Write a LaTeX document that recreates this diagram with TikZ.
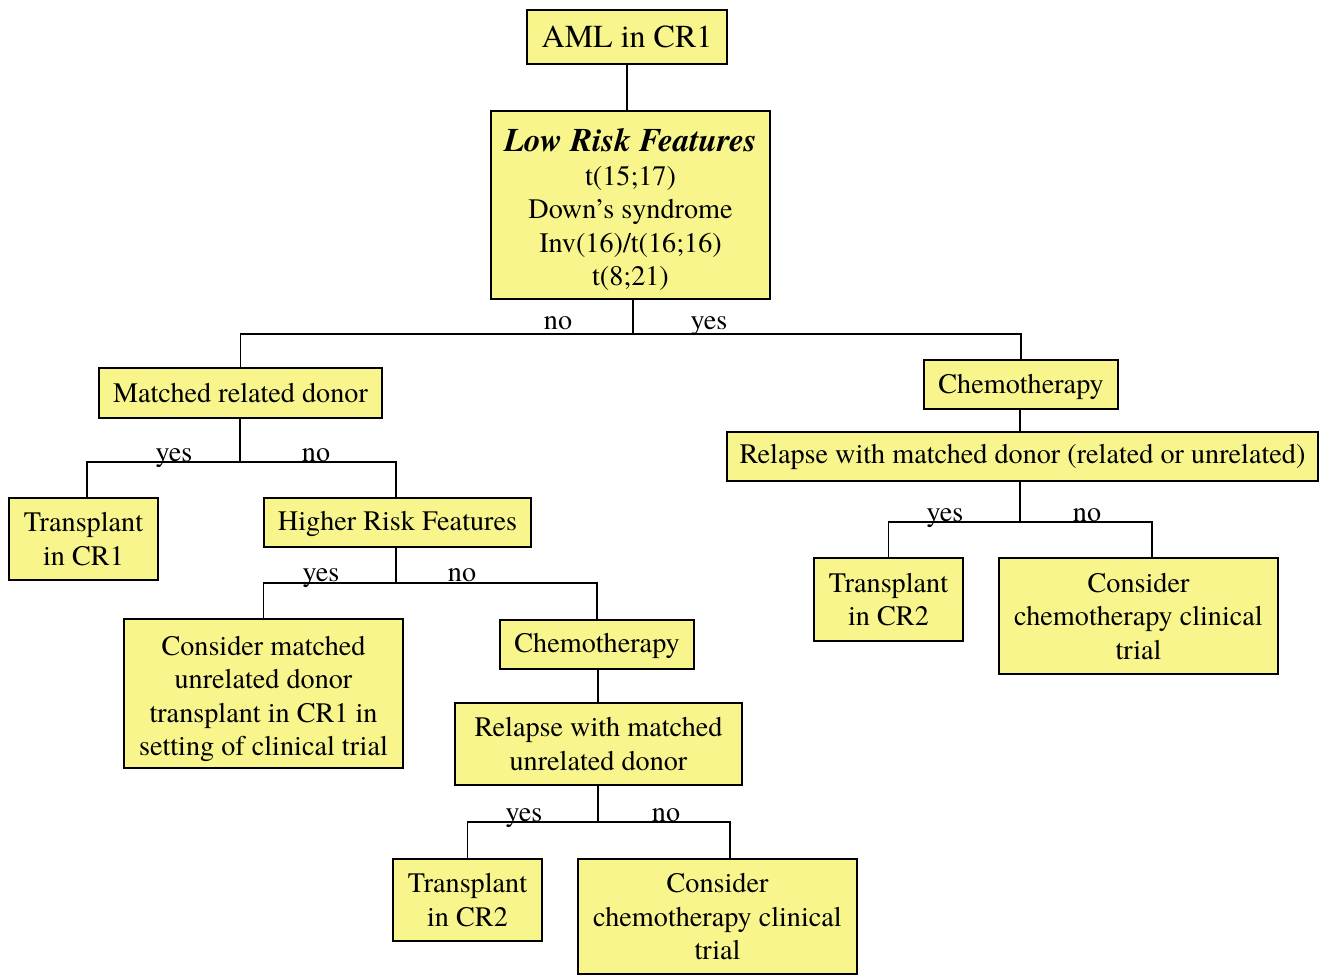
\documentclass[tikz,border=0pt]{standalone}
\usepackage{fontspec}
\newfontfamily\boxfont{TeX Gyre Termes}
\usepackage{tikz}

\definecolor{boxyellow}{RGB}{247,245,140}

\begin{document}
\begin{tikzpicture}[x=0.5pt,y=-0.5pt,
  box/.style={draw, fill=boxyellow, line width=0.7pt, align=center,
    inner sep=0pt, font=\boxfont\fontsize{14.1}{16.75}\selectfont},
  lbl/.style={font=\boxfont\fontsize{14.1}{16.75}\selectfont, inner sep=0pt, anchor=base},
  every path/.style={line width=0.6pt}]
  \useasboundingbox (0,0) rectangle (1327,975);

  \node[box, minimum width=100pt, minimum height=27pt, font=\boxfont\fontsize{16}{19}\selectfont] (aml) at (627,37) {AML in CR1};
  \node[box, minimum width=139.5pt, minimum height=94pt] (lrf) at (630.5,205)
    {\rule{0pt}{16pt}{\fontsize{16.5}{18}\selectfont\textbf{\textit{Low Risk Features}}}\\t(15;17)\\Down’s syndrome\\Inv(16)/t(16;16)\\t(8;21)};

  \node[box, minimum width=141.5pt, minimum height=25pt] (mrd) at (240.5,393) {Matched related donor};
  \node[box, minimum width=97pt, minimum height=24.5pt] (chr) at (1021,384.5) {\rule{0pt}{12pt}Chemotherapy};
  \node[box, minimum width=295.5pt, minimum height=24.5pt] (rlr) at (1022.5,456.5) {Relapse with matched donor (related or unrelated)};

  \node[box, minimum width=74.5pt, minimum height=41pt] (tc1) at (83.5,539) {Transplant\\in CR1};
  \node[box, minimum width=133.5pt, minimum height=24.5pt] (hrf) at (397.5,522.5) {\rule{0pt}{11pt}Higher Risk Features};

  \node[box, minimum width=74.5pt, minimum height=41.5pt] (tc2r) at (888.5,599.5) {Transplant\\in CR2};
  \node[box, minimum width=139.5pt, minimum height=58pt] (cctr) at (1138.5,616) {Consider\\chemotherapy clinical\\trial};

  \node[box, minimum width=139.5pt, minimum height=74.5pt] (cmu) at (263.5,693.5)
    {\rule{0pt}{15pt}Consider matched\\unrelated donor\\transplant in CR1 in\\setting of clinical trial};
  \node[box, minimum width=97pt, minimum height=24.5pt] (chm) at (597,644.5) {\rule{0pt}{11pt}Chemotherapy};
  \node[box, minimum width=143.5pt, minimum height=41pt] (rlu) at (598.5,744) {Relapse with matched\\unrelated donor};

  \node[box, minimum width=74.5pt, minimum height=41pt] (tc2b) at (467.5,900) {Transplant\\in CR2};
  \node[box, minimum width=139.5pt, minimum height=57.5pt] (cctb) at (717.5,916.5) {Consider\\chemotherapy clinical\\trial};

  % branch points
  \coordinate (b1) at (633,334);
  \coordinate (b2) at (240,462);
  \coordinate (b3) at (396,583);
  \coordinate (b4) at (1020,522);
  \coordinate (b5) at (598,822);

  \draw (aml) -- (aml |- lrf.north);
  \draw (lrf.south -| b1) -- (b1);
  \draw (b1) -| (mrd.north);
  \draw (b1) -| (chr.north);
  \draw (chr.south -| b4) -- (rlr.north -| b4);

  \draw (mrd.south -| b2) -- (b2);
  \draw (b2) -| (tc1.north -| 87,0);
  \draw (b2) -| (hrf.north -| b3);

  \draw (hrf.south -| b3) -- (b3);
  \draw (b3) -| (cmu.north);
  \draw (b3) -| (chm.north);
  \draw (chm.south -| b5) -- (rlu.north -| b5);

  \draw (rlr.south -| b4) -- (b4);
  \draw (b4) -| (tc2r.north);
  \draw (b4) -| (cctr.north -| 1152,0);

  \draw (rlu.south -| b5) -- (b5);
  \draw (b5) -| (tc2b.north);
  \draw (b5) -| (cctb.north -| 730,0);

  % yes / no labels
  \node[lbl] (n1) at (558,329) {no};
  \node[lbl] (y1) at (709,329) {yes};
  \node[lbl] (y2) at (174,461) {yes};
  \node[lbl] (n2) at (316,461) {no};
  \node[lbl] (y3) at (321,581) {yes};
  \node[lbl] (n3) at (462,581) {no};
  \node[lbl] (y4) at (945,521) {yes};
  \node[lbl] (n4) at (1087,521) {no};
  \node[lbl] (y5) at (524,821) {yes};
  \node[lbl] (n5) at (666,821) {no};
\end{tikzpicture}
\end{document}
